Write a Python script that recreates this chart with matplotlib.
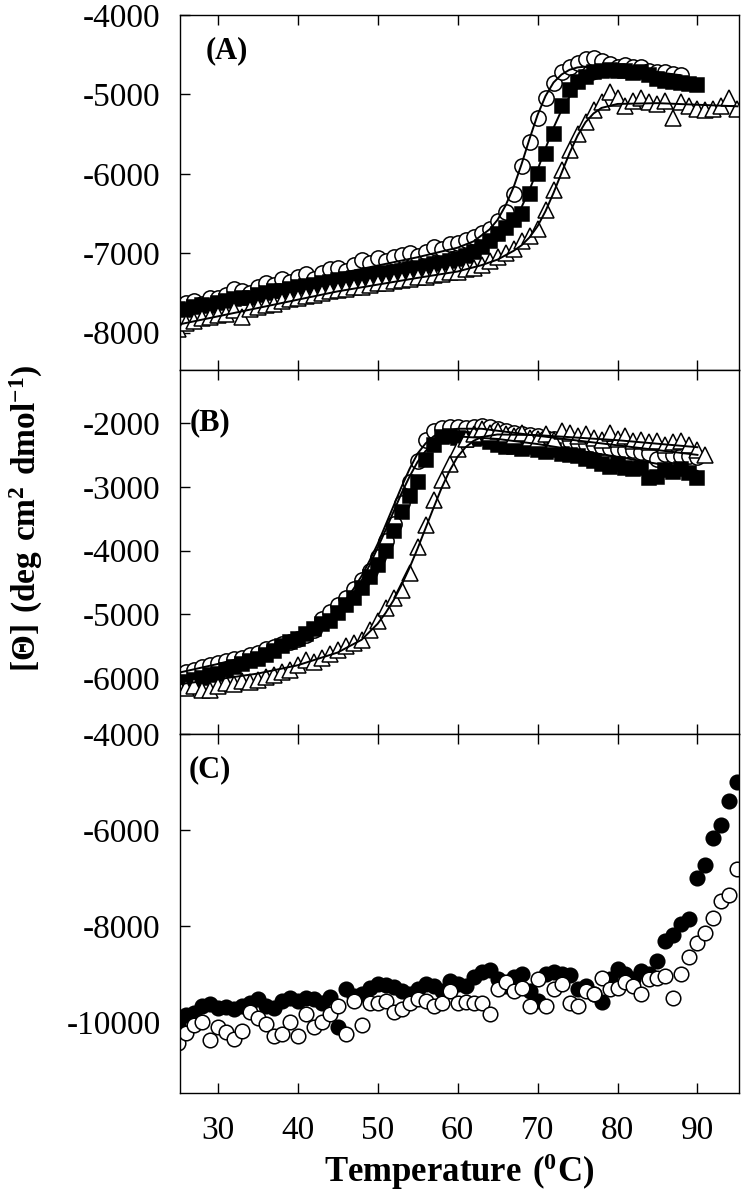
import numpy as np
import matplotlib
matplotlib.use("Agg")
import matplotlib.pyplot as plt

plt.rcParams['font.family'] = ['Liberation Serif', 'DejaVu Serif']
plt.rcParams['mathtext.fontset'] = 'custom'
plt.rcParams['mathtext.rm'] = 'Liberation Serif'
plt.rcParams['mathtext.bf'] = 'Liberation Serif:bold'
plt.rcParams['axes.unicode_minus'] = False

# ---- panel A : three samples (open circle, filled square, open triangle) ----
tA_circ = list(range(25, 89))
A_circ = [-7650, -7620, -7600, -7640, -7560, -7560, -7520, -7450, -7480, -7500,
          -7420, -7380, -7400, -7330, -7360, -7300, -7260, -7320, -7250, -7200,
          -7180, -7220, -7150, -7080, -7120, -7060, -7100, -7050, -7020, -7000,
          -7030, -6980, -6920, -6950, -6880, -6870, -6830, -6800, -6750, -6700,
          -6600, -6480, -6250, -5900, -5600, -5300, -5050, -4860, -4720, -4650,
          -4600, -4560, -4540, -4580, -4620, -4650, -4630, -4660, -4650, -4700,
          -4720, -4720, -4740, -4750]
tA_sq = list(range(25, 91))
A_sq = [-7700, -7720, -7680, -7650, -7660, -7620, -7600, -7580, -7560, -7560,
        -7520, -7500, -7480, -7470, -7450, -7430, -7410, -7400, -7380, -7360,
        -7340, -7320, -7310, -7300, -7280, -7260, -7250, -7230, -7220, -7200,
        -7180, -7160, -7140, -7120, -7100, -7070, -7030, -6980, -6920, -6850,
        -6760, -6680, -6580, -6500, -6250, -6000, -5750, -5500, -5150, -4950,
        -4850, -4780, -4720, -4700, -4690, -4700, -4710, -4730, -4720, -4760,
        -4800, -4830, -4850, -4860, -4870, -4880]
tA_tri = list(range(25, 96))
A_tri = [-7950, -7880, -7850, -7820, -7800, -7780, -7760, -7720, -7800, -7700,
         -7680, -7650, -7640, -7600, -7580, -7560, -7540, -7520, -7500, -7480,
         -7460, -7450, -7430, -7420, -7400, -7380, -7370, -7350, -7340, -7320,
         -7300, -7300, -7280, -7260, -7240, -7230, -7200, -7180, -7150, -7100,
         -7050, -7000, -6950, -6850, -6780, -6700, -6450, -6200, -5950, -5700,
         -5500, -5350, -5200, -5100, -4970, -5050, -5150, -5080, -5050, -5100,
         -5120, -5080, -5300, -5100, -5150, -5180, -5200, -5180, -5150, -5050,
         -5180]
# fitted curves, panel A
fA_circ_t = [25, 35, 45, 55, 60, 62, 64, 65, 66, 67, 68, 69, 70, 71, 72, 73, 74, 75, 77, 80, 85, 88]
fA_circ = [-7680, -7470, -7260, -7050, -6930, -6850, -6700, -6580, -6400, -6170, -5880,
           -5560, -5260, -5020, -4850, -4750, -4690, -4660, -4640, -4660, -4720, -4760]
fA_sq_t = [25, 35, 45, 55, 60, 63, 65, 66, 67, 68, 69, 70, 71, 72, 73, 74, 75, 76, 78, 80, 85, 90]
fA_sq = [-7720, -7530, -7340, -7170, -7080, -6960, -6840, -6740, -6600, -6420, -6200,
         -5950, -5680, -5420, -5200, -5030, -4920, -4850, -4780, -4760, -4790, -4850]
fA_tri_t = [25, 35, 45, 55, 60, 63, 65, 67, 68, 69, 70, 71, 72, 73, 74, 75, 76, 77, 78, 80, 85, 90, 95]
fA_tri = [-7900, -7690, -7480, -7310, -7230, -7150, -7080, -6970, -6900, -6800, -6660,
          -6470, -6240, -5990, -5740, -5520, -5350, -5240, -5170, -5120, -5110, -5130, -5150]

# ---- panel B ----
tB_circ = list(range(25, 91))
B_circ = [-5950, -5900, -5870, -5820, -5800, -5760, -5740, -5700, -5680, -5640,
          -5600, -5540, -5520, -5470, -5430, -5380, -5320, -5250, -5080, -4970,
          -4860, -4740, -4600, -4460, -4320, -4100, -3850, -3580, -3250, -2930,
          -2600, -2260, -2120, -2080, -2070, -2060, -2080, -2060, -2050, -2070,
          -2100, -2120, -2150, -2170, -2190, -2210, -2230, -2250, -2270, -2290,
          -2310, -2330, -2350, -2370, -2390, -2400, -2420, -2430, -2450, -2470,
          -2560, -2480, -2500, -2510, -2520, -2530]
tB_sq = list(range(25, 91))
B_sq = [-6080, -6060, -6030, -6000, -5960, -5930, -5880, -5820, -5780, -5740,
        -5700, -5640, -5580, -5500, -5440, -5380, -5310, -5230, -5160, -5100,
        -4980, -4850, -4740, -4580, -4420, -4220, -4000, -3700, -3400, -3150,
        -2920, -2580, -2340, -2220, -2200, -2230, -2260, -2250, -2230, -2300,
        -2340, -2370, -2380, -2400, -2380, -2420, -2450, -2430, -2480, -2500,
        -2520, -2560, -2600, -2650, -2690, -2650, -2700, -2720, -2700, -2860,
        -2850, -2730, -2770, -2720, -2780, -2860]
tB_tri = list(range(25, 92))
B_tri = [-6100, -6150, -6120, -6180, -6190, -6120, -6080, -6100, -6050, -6060,
         -6030, -5980, -5950, -5900, -5870, -5800, -5720, -5750, -5680, -5620,
         -5560, -5500, -5450, -5400, -5250, -5100, -4900, -4750, -4620, -4350,
         -3950, -3600, -3200, -2900, -2650, -2400, -2250, -2170, -2100, -2150,
         -2120, -2180, -2200, -2150, -2230, -2250, -2180, -2260, -2120, -2160,
         -2200, -2180, -2230, -2260, -2150, -2250, -2200, -2280, -2260, -2300,
         -2280, -2350, -2300, -2280, -2350, -2420, -2500]
fB_circ_t = [25, 30, 35, 40, 43, 45, 47, 48, 49, 50, 51, 52, 53, 54, 55, 56, 57, 58, 60, 63, 70, 80, 90]
fB_circ = [-5920, -5780, -5620, -5420, -5200, -4950, -4600, -4400, -4160, -3900, -3600,
           -3300, -3000, -2720, -2480, -2320, -2210, -2140, -2090, -2090, -2200, -2350, -2500]
fB_sq_t = [25, 30, 35, 40, 43, 45, 47, 48, 49, 50, 51, 52, 53, 54, 55, 56, 57, 58, 60, 65, 70, 80, 90]
fB_sq = [-6060, -5900, -5700, -5450, -5220, -5000, -4680, -4470, -4230, -3960, -3680,
         -3390, -3100, -2840, -2610, -2440, -2320, -2250, -2210, -2250, -2330, -2530, -2750]
fB_tri_t = [25, 30, 35, 40, 45, 48, 50, 51, 52, 53, 54, 55, 56, 57, 58, 59, 60, 61, 62, 63, 65, 70, 80, 90]
fB_tri = [-6100, -6020, -5930, -5800, -5600, -5400, -5150, -4980, -4780, -4540, -4270,
          -3970, -3650, -3330, -3020, -2750, -2530, -2380, -2280, -2220, -2180, -2190,
          -2270, -2380]

# ---- panel C : filled and open circles ----
tC = list(range(25, 96))
C_fill = [-10050, -9850, -9800, -9650, -9620, -9700, -9680, -9720, -9650, -9600,
          -9520, -9650, -9700, -9550, -9500, -9550, -9500, -9520, -9600, -9480,
          -10100, -9300, -9450, -9400, -9280, -9200, -9220, -9260, -9350, -9400,
          -9300, -9200, -9250, -9350, -9130, -9200, -9250, -9050, -8950, -8900,
          -9100, -9250, -9050, -9000, -9350, -9550, -9000, -8950, -9000, -9020,
          -9300, -9250, -9400, -9580, -9100, -8880, -9000, -9100, -8930, -9000,
          -8720, -8300, -8180, -7950, -7850, -7000, -6720, -6170, -5900, -5400,
          -5000]
C_open = [-10430, -10220, -10050, -10000, -10370, -10100, -10200, -10340, -10170, -9780,
          -9900, -10030, -10280, -10250, -10000, -10280, -9820, -10100, -9990, -9820,
          -9650, -10250, -9560, -10050, -9600, -9600, -9560, -9780, -9720, -9600,
          -9520, -9550, -9650, -9600, -9350, -9600, -9580, -9600, -9600, -9820,
          -9300, -9150, -9350, -9280, -9650, -9100, -9650, -9300, -9200, -9600,
          -9650, -9350, -9420, -9080, -9300, -9280, -9150, -9250, -9400, -9100,
          -9070, -9030, -9500, -9000, -8650, -8350, -8150, -7830, -7480, -7340,
          -6800]

xticks = [30, 40, 50, 60, 70, 80, 90]

fig = plt.figure(figsize=(7.52, 11.99), dpi=100)
L, W = 0.2394, 0.7434
axA = fig.add_axes([L, 0.6914, W, 0.2961])
axB = fig.add_axes([L, 0.3878, W, 0.3036])
axC = fig.add_axes([L, 0.0884, W, 0.2994])

mk = dict(linestyle='none', markeredgecolor='black', markeredgewidth=1.1)
for ax, circ, sq, tri, fits in [
        (axA, (tA_circ, A_circ), (tA_sq, A_sq), (tA_tri, A_tri),
         [(fA_circ_t, fA_circ), (fA_sq_t, fA_sq), (fA_tri_t, fA_tri)]),
        (axB, (tB_circ, B_circ), (tB_sq, B_sq), (tB_tri, B_tri),
         [(fB_circ_t, fB_circ), (fB_sq_t, fB_sq), (fB_tri_t, fB_tri)])]:
    ax.plot(circ[0], circ[1], marker='o', markersize=11, markerfacecolor='white', **mk)
    ax.plot(sq[0], sq[1], marker='s', markersize=9.5, markerfacecolor='black', **mk)
    ax.plot(tri[0], tri[1], marker='^', markersize=11, markerfacecolor='white', **mk)
    for ft, fv in fits:
        ax.plot(ft, fv, color='black', lw=1.4, zorder=5)

axC.plot(tC, C_fill, marker='o', markersize=10.5, markerfacecolor='black', **mk)
axC.plot(tC, C_open, marker='o', markersize=10.5, markerfacecolor='white', **mk)

axA.set_ylim(-8470, -4000)
axA.set_yticks([-8000, -7000, -6000, -5000, -4000])
axB.set_ylim(-6878, -1169)
axB.set_yticks([-6000, -5000, -4000, -3000, -2000])
axC.set_ylim(-11470, -4000)
axC.set_yticks([-10000, -8000, -6000, -4000])

for ax, lab, lx, ly in [(axA, '(A)', 0.045, 0.90), (axB, '(B)', 0.018, 0.854), (axC, '(C)', 0.016, 0.90)]:
    ax.set_xlim(25.3, 95.2)
    ax.set_xticks(xticks)
    ax.tick_params(direction='in', length=7, width=1, top=True, right=False,
                   labelsize=24, pad=14)
    ax.tick_params(axis='x', pad=16)
    for s in ax.spines.values():
        s.set_linewidth(1)
    ax.text(lx, ly, lab, transform=ax.transAxes, fontsize=22, fontweight='bold',
            ha='left', va='center', zorder=10)

axA.tick_params(labelbottom=False)
axB.tick_params(labelbottom=False)

axC.set_xlabel(r'$\mathbf{Temperature\ (^{0}C)}$', fontsize=25, labelpad=4)
fig.text(0.035, 0.568, r'$\mathbf{[\Theta]\ (deg\ cm^{2}\ dmol^{-1})}$', fontsize=24,
         rotation=90, ha='center', va='center')

fig.savefig('out.png', dpi=100)
